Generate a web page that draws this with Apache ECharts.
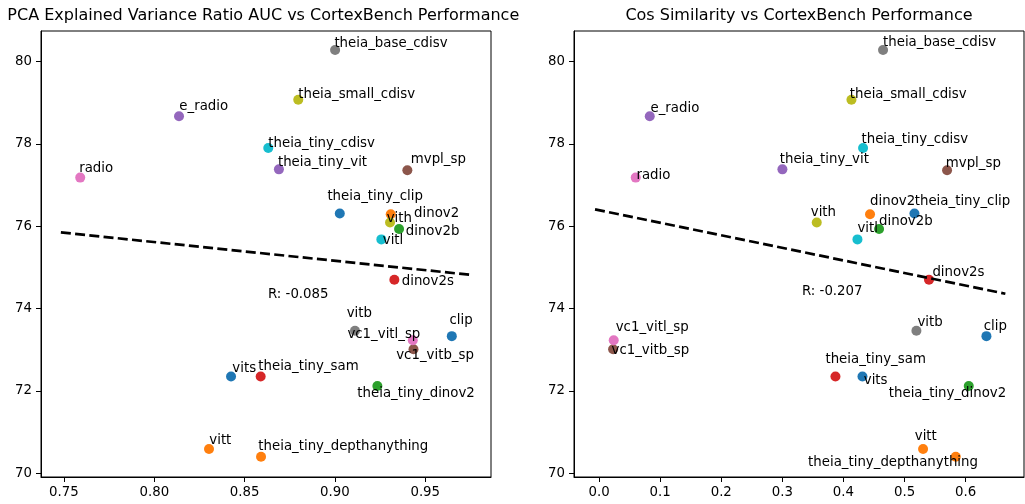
<!DOCTYPE html>
<html><head><meta charset="utf-8">
<script src="https://cdn.jsdelivr.net/npm/echarts@6/dist/echarts.min.js"></script>
<style>html,body{margin:0;padding:0;background:#fff}#c{width:1025px;height:504px}</style>
</head><body><div id="c"></div>
<script>
const models = ['clip','dinov2','dinov2b','dinov2s','e_radio','mvpl_sp','radio','theia_base_cdisv','theia_small_cdisv','theia_tiny_cdisv','theia_tiny_clip','theia_tiny_depthanything','theia_tiny_dinov2','theia_tiny_sam','theia_tiny_vit','vc1_vitb_sp','vc1_vitl_sp','vitb','vith','vitl','vits','vitt'];
const performance = [73.33,76.29,75.93,74.70,78.67,77.36,77.18,80.28,79.07,77.90,76.31,70.40,72.12,72.35,77.38,73.01,73.23,73.46,76.09,75.68,72.35,70.59];
const pcaAuc = [0.9647,0.9309,0.9355,0.9329,0.8137,0.9401,0.7590,0.9001,0.8797,0.8631,0.9027,0.8591,0.9235,0.8589,0.8690,0.9435,0.9431,0.9111,0.9305,0.9257,0.8425,0.8303];
const cosSim = [0.634,0.4435,0.4583,0.540,0.083,0.5696,0.060,0.4648,0.4131,0.4321,0.5162,0.5838,0.6051,0.3869,0.3001,0.023,0.024,0.5194,0.3563,0.4229,0.4311,0.5303];
const trendPca = [[0.7483,75.85],[0.9748,74.82]];
const trendCos = [[-0.0066,76.41],[0.665,74.36]];
const rPca = 'R: -0.085';
const rCos = 'R: -0.207';
const yTicks = [70,72,74,76,78,80];
const xTicksPca = [0.75,0.80,0.85,0.90,0.95];
const xTicksCos = [0.0,0.1,0.2,0.3,0.4,0.5,0.6];
const titles = ['PCA Explained Variance Ratio AUC vs CortexBench Performance','Cos Similarity vs CortexBench Performance'];

// label placement (dx, baseline dy) in px — layout only
const labOffPca = [[-2.4,-11.7],[23.3,4],[6.7,6.4],[7.4,6],[0.3,-5.7],[3.4,-6.4],[-1,-5],[-0.7,-1.7],[0,-0.7],[0,0],[-12.4,-12.3],[-2.7,-5.6],[-20,12.3],[-2.4,-5.7],[-1,-2],[-17.3,10.7],[-65.4,-1.7],[-8.3,-13],[-3.3,0],[1.4,5.7],[1.3,-3.4],[0.3,-3.6]];
const labOffCos = [[-2.7,-5.7],[0,-8.3],[0,-3.3],[3.4,-2.3],[0.7,-3.3],[-1.3,-2.6],[0.7,2.6],[0,-3],[-1.7,-1.3],[-1.6,-4],[0.3,-7.7],[-147.7,10],[-80,11.6],[-10,-12.7],[-2.7,-5],[-1.6,5.7],[2,-8.3],[1,-4],[-6,-6],[0,-6.4],[1.3,8.3],[-8.3,-8]];

const palette = ['#1f77b4','#ff7f0e','#2ca02c','#d62728','#9467bd','#8c564b','#e377c2','#7f7f7f','#bcbd22','#17becf'];
const FONT = 'DejaVu Sans';
const TXT = '#000';
const FS = 13.33;
const BASE2MID = 4.4;

function pts(xs, offs){
  return models.map((m,i)=>({
    name:m, value:[xs[i], performance[i]],
    itemStyle:{color:palette[i%10],opacity:1},
    label:{offset:[offs[i][0], offs[i][1]-BASE2MID]}
  }));
}
function xAxis(idx,min,max,ticks,dec){
  return {type:'value', gridIndex:idx, min:min, max:max,
    axisLine:{show:true,onZero:false,lineStyle:{color:'#000',width:1}},
    axisTick:{show:true,length:5,lineStyle:{color:'#000'},customValues:ticks},
    axisLabel:{customValues:ticks,formatter:v=>v.toFixed(dec),color:TXT,fontSize:FS,fontFamily:FONT,margin:9},
    splitLine:{show:false}};
}
function yAxis(idx){
  return {type:'value', gridIndex:idx, min:69.91, max:80.74,
    axisLine:{show:true,onZero:false,lineStyle:{color:'#000',width:1}},
    axisTick:{show:true,length:5,lineStyle:{color:'#000'},customValues:yTicks},
    axisLabel:{customValues:yTicks,formatter:v=>String(v),color:TXT,fontSize:FS,fontFamily:FONT,margin:9},
    splitLine:{show:false}};
}
function scatter(idx,xs,offs){
  return {type:'scatter', xAxisIndex:idx, yAxisIndex:idx, symbolSize:10, z:2,
    itemStyle:{opacity:1},
    data:pts(xs,offs),
    label:{show:true, position:'inside', align:'left', verticalAlign:'middle',
      formatter:p=>p.name, color:TXT, opacity:1, fontSize:FS, fontFamily:FONT},
    emphasis:{disabled:true}};
}
function trend(idx,d){
  return {type:'line', xAxisIndex:idx, yAxisIndex:idx, data:d, symbol:'none', z:3,
    lineStyle:{color:'#000',width:2.7,type:[10,4.3]}, emphasis:{disabled:true}};
}
const chart = echarts.init(document.getElementById('c'),null,{renderer:'canvas'});
chart.setOption({
  backgroundColor:'#fff',
  animation:false,
  grid:[
    {left:41,top:31,width:450,height:446,show:true,borderColor:'#000',borderWidth:1,backgroundColor:'transparent'},
    {left:574,top:31,width:450,height:446,show:true,borderColor:'#000',borderWidth:1,backgroundColor:'transparent'}
  ],
  xAxis:[xAxis(0,0.7373,0.9864,xTicksPca,2), xAxis(1,-0.041,0.6955,xTicksCos,1)],
  yAxis:[yAxis(0), yAxis(1)],
  series:[scatter(0,pcaAuc,labOffPca), trend(0,trendPca), scatter(1,cosSim,labOffCos), trend(1,trendCos)],
  graphic:[
    {type:'text',x:263.3,y:15.5,style:{text:titles[0],align:'center',verticalAlign:'middle',fontFamily:FONT,fontSize:16,fill:TXT}},
    {type:'text',x:799,y:15.5,style:{text:titles[1],align:'center',verticalAlign:'middle',fontFamily:FONT,fontSize:16,fill:TXT}},
    {type:'text',left:268,top:288,style:{text:rPca,fontFamily:FONT,fontSize:FS,fill:TXT}},
    {type:'text',left:802,top:285,style:{text:rCos,fontFamily:FONT,fontSize:FS,fill:TXT}}
  ]
});
</script></body></html>
